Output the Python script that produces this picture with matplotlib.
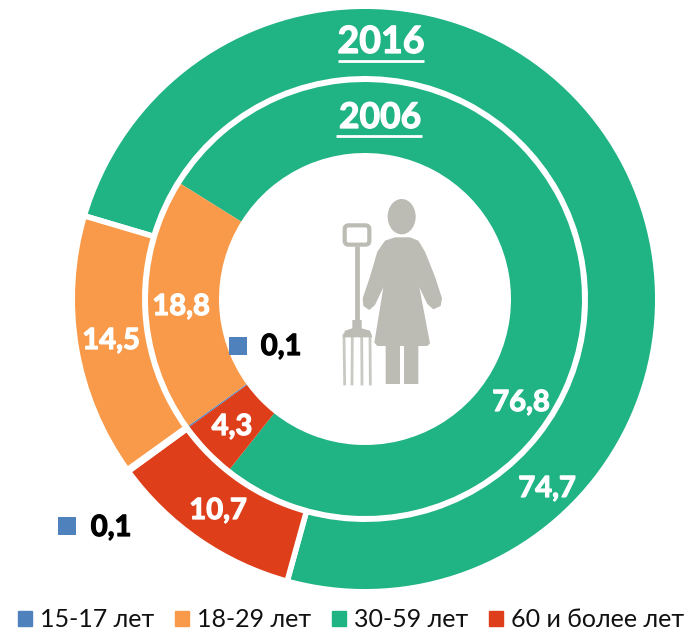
import numpy as np
import matplotlib.pyplot as plt
import matplotlib.patheffects as pe
from matplotlib.patches import Ellipse, Polygon, FancyBboxPatch

plt.rcParams['font.family'] = ['Lato', 'Open Sans', 'DejaVu Sans']

W, H = 687, 630

# clockwise order as on the chart
categories = ['30-59 лет', '60 и более лет', '15-17 лет', '18-29 лет']
values_2016 = [74.7, 10.7, 0.1, 14.5]
values_2006 = [76.8, 4.3, 0.1, 18.8]
colors = ['#20b384', '#de3f1a', '#4f81bd', '#f99a4a']
legend_order = [2, 3, 0, 1]
legend_labels = [categories[i] for i in legend_order]

fig = plt.figure(figsize=(W / 100, H / 100), dpi=100)
ax = fig.add_axes([0, 0, 1, 1])

cx, cy = 365, H - 299


def py(y):
    # picture rows to axis y
    return H - y


# outer ring 2016
outer, _ = ax.pie(values_2016, colors=colors, radius=292.8, center=(cx, cy),
                  startangle=90 + 73.5, counterclock=False,
                  wedgeprops=dict(width=72.6, edgecolor='white', linewidth=4))

# inner ring 2006
inner, _ = ax.pie(values_2006, colors=colors, radius=217, center=(cx, cy),
                  startangle=90 + 58, counterclock=False,
                  wedgeprops=dict(width=71, edgecolor='none'))

ax.set_xlim(0, W)
ax.set_ylim(0, H)
ax.set_aspect('equal')
ax.axis('off')


def bold_text(x, y, s, color, fs):
    stroke = pe.withStroke(linewidth=0.9, foreground=color)
    ax.text(x, py(y), s, color=color, fontsize=fs, fontweight='bold',
            ha='center', va='center', path_effects=[stroke])


# year titles
for year, x, y, fs, x0, x1, yl in [('2016', 381, 42, 27, 338, 424, 61),
                                   ('2006', 380, 118, 25.5, 336, 422, 136)]:
    bold_text(x, y, year, 'white', fs)
    ax.plot([x0, x1], [py(yl), py(yl)], color='white', lw=2, solid_capstyle='butt')

# value labels
labels_xy = [('14,5', 111, 341), ('18,8', 181, 307), ('4,3', 232, 427),
             ('10,7', 218, 511), ('76,8', 521, 403), ('74,7', 547, 489)]
for s, x, y in labels_xy:
    bold_text(x, y, s, 'white', 21)

# 0,1 callouts with a blue square
for sx, sy, tx, ty in [(238, 346, 281, 347), (67, 526, 111, 528)]:
    ax.scatter([sx], [py(sy)], marker='s', s=165, color=colors[2], linewidths=0)
    bold_text(tx, ty, '0,1', 'black', 21)

# figure with pitchfork, coordinates from a 3x crop at (320, 180)
icon = '#bcbcb4'


def zx(x):
    return 320 + x / 3


def zy(y):
    return py(180 + y / 3)


ax.add_patch(Ellipse((zx(245), zy(110)), 84 / 3, 106 / 3, color=icon, lw=0))
body = [(225, 172), (270, 172), (295, 182), (315, 215), (345, 290), (366, 355),
        (362, 378), (340, 388), (322, 372), (298, 322), (330, 490), (322, 498),
        (295, 498), (295, 612), (252, 612), (252, 498), (240, 498), (240, 612),
        (197, 612), (197, 498), (172, 498), (163, 488), (190, 322), (165, 375),
        (148, 390), (130, 378), (128, 355), (150, 290), (172, 215), (195, 182)]
ax.add_patch(Polygon([(zx(a), zy(b)) for a, b in body], closed=True, color=icon, lw=0))

ax.add_patch(FancyBboxPatch((zx(74), zy(194)), 74 / 3, 58 / 3,
                            boxstyle='round,pad=0,rounding_size=4',
                            fill=False, ec=icon, lw=3))
ax.plot([zx(111), zx(111)], [zy(198), zy(425)], color=icon, lw=3.4, solid_capstyle='butt')
ax.add_patch(Polygon([(zx(a), zy(b)) for a, b in
                      [(97, 420), (125, 420), (125, 445), (150, 452), (157, 472),
                       (68, 472), (75, 452), (97, 445)]], closed=True, color=icon, lw=0))
for x0, x1 in [(72, 74), (97, 96), (125, 126), (150, 151)]:
    ax.plot([zx(x0), zx(x1)], [zy(465), zy(612)], color=icon, lw=2, alpha=0.8)

# legend
leg_handles = [plt.Rectangle((0, 0), 1, 1, color=colors[i]) for i in legend_order]
ax.legend(leg_handles, legend_labels, ncol=4, loc='lower center', frameon=False,
          bbox_to_anchor=(0.511, -0.022), bbox_transform=fig.transFigure,
          fontsize=18, handlelength=0.56, handleheight=0.56, handletextpad=0.3,
          columnspacing=0.85, borderpad=0, labelcolor='#111111')

fig.savefig('out.png', dpi=100)
